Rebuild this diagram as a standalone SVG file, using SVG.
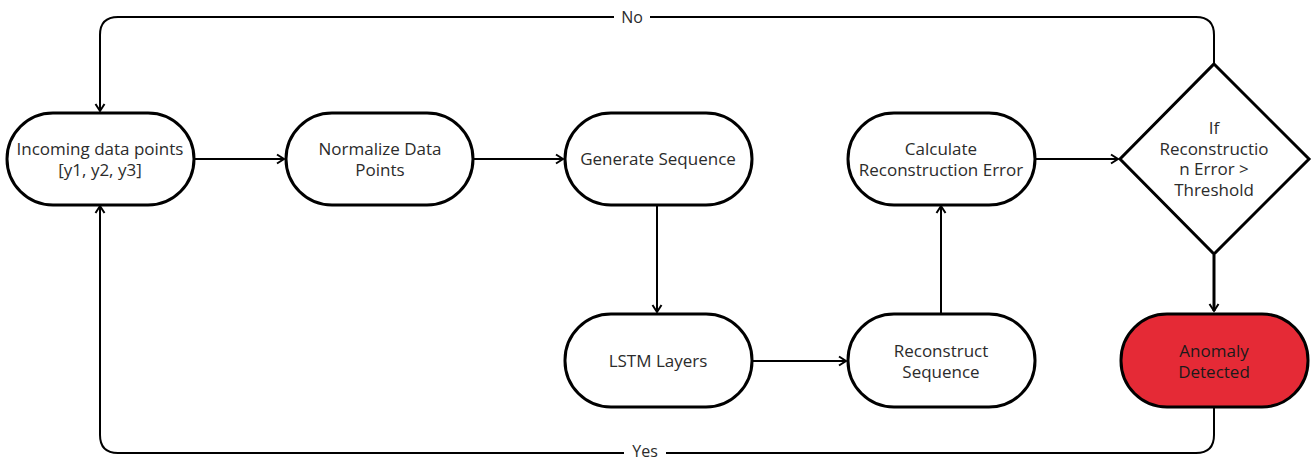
<svg xmlns="http://www.w3.org/2000/svg" width="1312" height="460" viewBox="0 0 1312 460">
  <style>
    .node { fill: #ffffff; stroke: #000000; stroke-width: 3; }
    .alert { fill: #e52a36; stroke: #000000; stroke-width: 3; }
    .label { font-family: "Open Sans", "Liberation Sans", sans-serif; font-size: 17px; fill: #2b2b2b; text-anchor: middle; }
    .alert-label { fill: #1a1a1a; }
    .edge { fill: none; stroke: #000000; stroke-width: 2; }
    .edge-thick { fill: none; stroke: #000000; stroke-width: 3; }
    .edge-label { font-family: "Open Sans", "Liberation Sans", sans-serif; font-size: 16px; fill: #2b2b2b; text-anchor: middle; }
  </style>
  <defs>
    <marker id="arrow" viewBox="0 0 12 12" refX="10" refY="6" markerWidth="12" markerHeight="12" markerUnits="userSpaceOnUse" orient="auto">
      <path d="M3,1.5 L10,6 L3,10.5" fill="none" stroke="#000000" stroke-width="2"/>
    </marker>
  </defs>
  <rect width="1312" height="460" fill="#ffffff"/>

  <g id="connectors">
    <!-- decision "No": back to the input -->
    <path class="edge" d="M1214,63 V35 Q1214,17 1196,17 H118 Q100,17 100,35 V111" marker-end="url(#arrow)"/>
    <!-- anomaly "Yes": back to the input -->
    <path class="edge" d="M1214,408 V435 Q1214,453 1196,453 H118 Q100,453 100,435 V206" marker-end="url(#arrow)"/>
    <path class="edge" d="M194,159 H284" marker-end="url(#arrow)"/>
    <path class="edge" d="M474,159 H563" marker-end="url(#arrow)"/>
    <path class="edge" d="M657,205 V312" marker-end="url(#arrow)"/>
    <path class="edge" d="M752,361 H846" marker-end="url(#arrow)"/>
    <path class="edge" d="M941,313 V206" marker-end="url(#arrow)"/>
    <path class="edge" d="M1035,159 H1118" marker-end="url(#arrow)"/>
    <path class="edge-thick" d="M1214,255 V311" marker-end="url(#arrow)"/>
    <rect x="614" y="7" width="36" height="20" fill="#ffffff"/>
    <text class="edge-label" x="632" y="23">No</text>
    <rect x="624" y="443" width="42" height="17" fill="#ffffff"/>
    <text class="edge-label" x="645" y="457">Yes</text>
  </g>

  <g id="input">
    <rect class="node" x="7" y="113" width="187" height="92" rx="46"/>
    <text class="label" x="100" y="154.5">Incoming data points</text>
    <text class="label" x="100" y="175.5">[y1, y2, y3]</text>
  </g>

  <g id="normalize">
    <rect class="node" x="286" y="113" width="187" height="92" rx="46"/>
    <text class="label" x="380" y="154.5">Normalize Data</text>
    <text class="label" x="380" y="175.5">Points</text>
  </g>

  <g id="generate">
    <rect class="node" x="565" y="113" width="187" height="92" rx="46"/>
    <text class="label" x="658" y="165">Generate Sequence</text>
  </g>

  <g id="calculate">
    <rect class="node" x="848" y="113" width="187" height="92" rx="46"/>
    <text class="label" x="941" y="154.5">Calculate</text>
    <text class="label" x="941" y="175.5">Reconstruction Error</text>
  </g>

  <g id="lstm">
    <rect class="node" x="565" y="314" width="187" height="93" rx="46"/>
    <text class="label" x="658" y="367">LSTM Layers</text>
  </g>

  <g id="reconstruct">
    <rect class="node" x="848" y="314" width="187" height="93" rx="46"/>
    <text class="label" x="941" y="356.5">Reconstruct</text>
    <text class="label" x="941" y="377.5">Sequence</text>
  </g>

  <g id="decision">
    <polygon class="node" points="1214,64 1309,159 1214,254 1120,159"/>
    <text class="label" x="1214" y="134">If</text>
    <text class="label" x="1214" y="154.5">Reconstructio</text>
    <text class="label" x="1214" y="175">n Error &gt;</text>
    <text class="label" x="1214" y="195.5">Threshold</text>
  </g>

  <g id="anomaly">
    <rect class="alert" x="1121" y="314" width="187" height="93" rx="46"/>
    <text class="label alert-label" x="1214" y="356.5">Anomaly</text>
    <text class="label alert-label" x="1214" y="377.5">Detected</text>
  </g>
</svg>
